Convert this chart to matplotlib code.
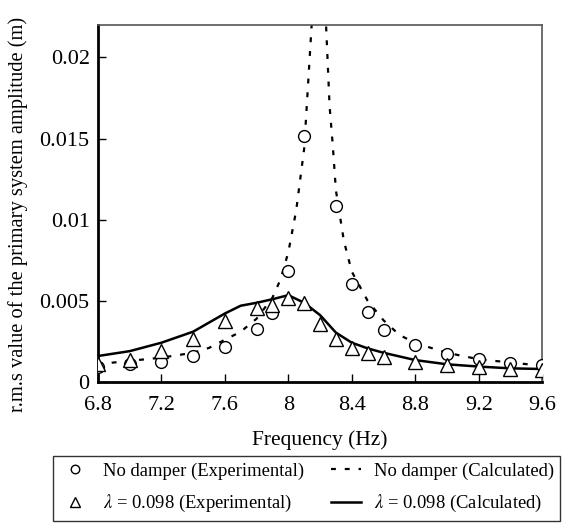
import numpy as np
import matplotlib.pyplot as plt
from matplotlib.ticker import FixedLocator

plt.rcParams['font.family'] = ['Liberation Serif', 'DejaVu Serif']
plt.rcParams['mathtext.fontset'] = 'stix'

# no damper, experimental (circles)
f_exp_nd = [6.8, 7.0, 7.2, 7.4, 7.6, 7.8, 7.9, 8.0, 8.1, 8.3, 8.4, 8.5, 8.6, 8.8, 9.0, 9.2, 9.4, 9.6]
a_exp_nd = [0.00094, 0.0011, 0.00125, 0.0016, 0.00213, 0.00326, 0.00427, 0.00685, 0.01516,
            0.01087, 0.00603, 0.00429, 0.0032, 0.0023, 0.00174, 0.0014, 0.00119, 0.00105]

# lambda = 0.098, experimental (triangles)
f_exp_d = [6.8, 7.0, 7.2, 7.4, 7.6, 7.8, 7.9, 8.0, 8.1, 8.2, 8.3, 8.4, 8.5, 8.6, 8.8, 9.0, 9.2, 9.4, 9.6]
a_exp_d = [0.0011, 0.00135, 0.00193, 0.00263, 0.00377, 0.00457, 0.00474, 0.00515, 0.00484, 0.00357,
           0.00263, 0.00211, 0.0018, 0.00156, 0.00125, 0.00105, 0.0009, 0.00082, 0.00074]

# no damper, calculated (dashed)
f_calc_nd = [6.8, 7.0, 7.2, 7.4, 7.5, 7.6, 7.7, 7.8, 7.9, 7.95, 8.0, 8.05, 8.1, 8.15, 8.19,
             8.24, 8.26, 8.28, 8.3, 8.35, 8.4, 8.5, 8.6, 8.7, 8.8, 9.0, 9.2, 9.4, 9.6]
a_calc_nd = [0.0011, 0.0013, 0.0015, 0.0018, 0.0021, 0.0026, 0.0031, 0.0039, 0.0052, 0.0063, 0.0080,
             0.0106, 0.0144, 0.0225, 0.032, 0.0215, 0.0170, 0.0146, 0.0118, 0.0087, 0.0068, 0.0050,
             0.0038, 0.0029, 0.0024, 0.0018, 0.0014, 0.0012, 0.0010]

# lambda = 0.098, calculated (solid)
f_calc_d = [6.8, 7.0, 7.2, 7.4, 7.6, 7.7, 7.8, 7.9, 8.0, 8.1, 8.2, 8.3, 8.4, 8.5, 8.6, 8.8, 9.0, 9.2, 9.4, 9.6]
a_calc_d = [0.0016, 0.0019, 0.00242, 0.0031, 0.00422, 0.0047, 0.00488, 0.0051, 0.00535, 0.00488, 0.00412,
            0.00304, 0.00242, 0.00207, 0.0018, 0.00135, 0.00109, 0.00095, 0.00084, 0.0008]

xticks = [6.8, 7.2, 7.6, 8.0, 8.4, 8.8, 9.2, 9.6]
xticklabels = ['6.8', '7.2', '7.6', '8', '8.4', '8.8', '9.2', '9.6']
yticks = [0, 0.005, 0.01, 0.015, 0.02]
yticklabels = ['0', '0.005', '0.01', '0.015', '0.02']

fig = plt.figure(figsize=(5.63, 5.26), dpi=100)
ax = fig.add_axes([0.174, 0.2738, 0.789, 0.6787])

h1, = ax.plot(f_exp_nd, a_exp_nd, 'o', mfc='white', mec='black', ms=8.5, mew=1.0,
              label='No damper (Experimental)', zorder=3)
h2, = ax.plot(f_exp_d, a_exp_d, '^', mfc='white', mec='black', ms=10, mew=1.0,
              label=r'$\lambda$ = 0.098 (Experimental)', zorder=3)
h3, = ax.plot(f_calc_nd, a_calc_nd, color='black', lw=1.6, ls=(0, (2.2, 4)),
              label='No damper (Calculated)', zorder=2)
h4, = ax.plot(f_calc_d, a_calc_d, color='black', lw=1.8,
              label=r'$\lambda$ = 0.098 (Calculated)', zorder=2)

ax.set_xlim(6.8, 9.6)
ax.set_ylim(0, 0.022)
ax.xaxis.set_major_locator(FixedLocator(xticks))
ax.set_xticklabels(xticklabels)
ax.yaxis.set_major_locator(FixedLocator(yticks))
ax.set_yticklabels(yticklabels)
ax.tick_params(direction='in', length=6, width=1, labelsize=16, colors='black')
ax.tick_params(axis='x', pad=10)
ax.tick_params(axis='y', pad=6)
for s in ['left', 'bottom']:
    ax.spines[s].set_linewidth(2)
    ax.spines[s].set_color('black')
for s in ['top', 'right']:
    ax.spines[s].set_linewidth(1.2)
    ax.spines[s].set_color('#555555')

ax.set_xlabel('Frequency (Hz)', fontsize=15.5, labelpad=11)
ax.set_ylabel('r.m.s value of the primary system amplitude (m)', fontsize=14.8)
ax.yaxis.set_label_coords(-0.158, 0.47)

leg = fig.legend(handles=[h1, h2, h3, h4], ncol=2, loc='center',
                 bbox_to_anchor=(0.545, 0.0715), fontsize=13.4, frameon=True,
                 fancybox=False, edgecolor='black', handlelength=1.6,
                 columnspacing=1.45, labelspacing=0.7, markerscale=0.72,
                 borderpad=0.35, handletextpad=0.7)
leg.get_frame().set_linewidth(1.0)

fig.savefig('out.png', dpi=100)
